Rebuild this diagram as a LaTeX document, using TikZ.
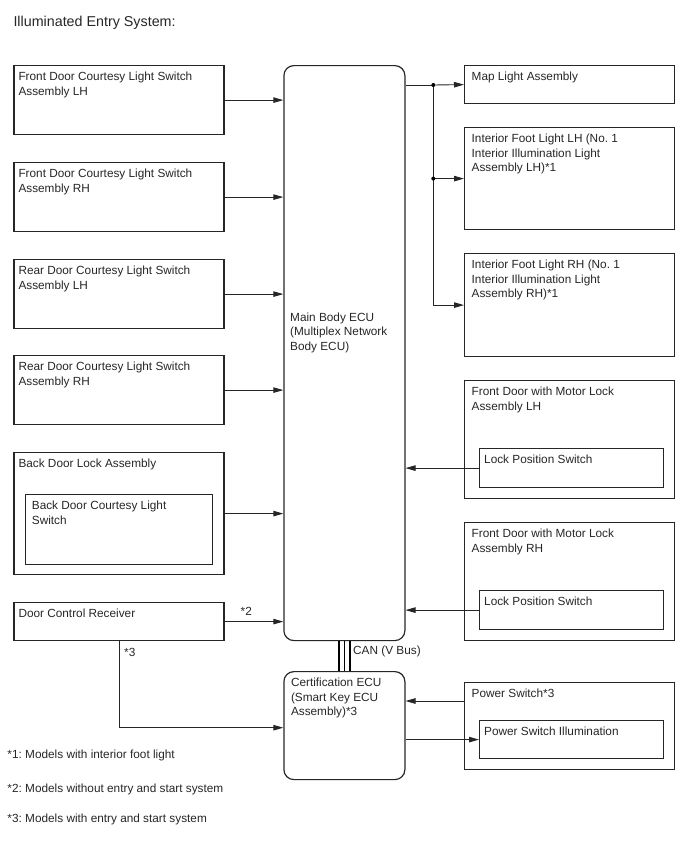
\documentclass[tikz,border=0pt]{standalone}
\usepackage{fontspec}
\setmainfont{Liberation Sans}
\usetikzlibrary{arrows.meta}
\frenchspacing

\begin{document}
\begin{tikzpicture}
[x=1pt,y=-1pt,
every node/.style={font=\fontsize{11.8}{14.5}\selectfont,text=black!85},
box/.style={draw=black!85,line width=1.2pt,anchor=north west,inner sep=0pt},
ecu/.style={box,rounded corners=10pt},
txt/.style={anchor=north west,align=left,inner xsep=5pt,inner ysep=7pt},
wideTxt/.style={txt,inner xsep=7.5pt},
note/.style={anchor=west,inner sep=0pt},
conn/.style={draw=black!85,line width=0.9pt,-{Triangle[length=10pt,width=5.5pt]}},
wire/.style={draw=black!85,line width=0.9pt},
can/.style={draw=black,line width=1.6pt},
tap/.style={circle,fill=black,minimum size=4pt,inner sep=0pt},
]
\useasboundingbox (0,0) rectangle (688,852);
\node[note,font=\fontsize{14.3}{16}\selectfont] (title) at (13.3,22.7) {Illuminated Entry System:};
% left column
\node[box,minimum width=210,minimum height=69,label={[txt]north west:{Front Door Courtesy Light Switch\\Assembly LH}}] (frontLH) at (13.3,65) {};
\node[box,minimum width=210,minimum height=69,label={[txt]north west:{Front Door Courtesy Light Switch\\Assembly RH}}] (frontRH) at (13.3,162) {};
\node[box,minimum width=210,minimum height=69,label={[txt]north west:{Rear Door Courtesy Light Switch\\Assembly LH}}] (rearLH) at (13.3,259) {};
\node[box,minimum width=210,minimum height=69,label={[txt]north west:{Rear Door Courtesy Light Switch\\Assembly RH}}] (rearRH) at (13.3,355) {};
\node[box,minimum width=210,minimum height=122,label={[txt]north west:{Back Door Lock Assembly}}] (backDoor) at (13.3,452) {};
\node[box,minimum width=187,minimum height=70,label={[txt,inner xsep=6.7pt]north west:{Back Door Courtesy Light\\Switch}}] (backSw) at (25,494) {};
\node[box,minimum width=210,minimum height=38,label={[txt]north west:{Door Control Receiver}}] (doorRx) at (13.3,602) {};
% ECUs
\node[ecu,minimum width=121,minimum height=575] (mainEcu) at (283.3,65) {};
\node[txt,anchor=west] (mainEcuText) at (285,332.5) {Main Body ECU\\(Multiplex Network\\Body ECU)};
\node[ecu,minimum width=121,minimum height=108,label={[wideTxt]north west:{Certification ECU\\(Smart Key ECU\\Assembly)*3}}] (certEcu) at (283.3,671) {};
% right column
\node[box,minimum width=210,minimum height=38,label={[wideTxt]north west:{Map Light Assembly}}] (mapLight) at (464,65) {};
\node[box,minimum width=210,minimum height=102,label={[wideTxt]north west:{Interior Foot Light LH (No. 1\\Interior Illumination Light\\Assembly LH)*1}}] (footLH) at (464,127) {};
\node[box,minimum width=210,minimum height=103,label={[wideTxt]north west:{Interior Foot Light RH (No. 1\\Interior Illumination Light\\Assembly RH)*1}}] (footRH) at (464,253) {};
\node[box,minimum width=210,minimum height=118,label={[wideTxt]north west:{Front Door with Motor Lock\\Assembly LH}}] (motorLH) at (464,380) {};
\node[box,minimum width=184,minimum height=39,label={[txt]north west:{Lock Position Switch}}] (lockLH) at (479,448) {};
\node[box,minimum width=210,minimum height=118,label={[wideTxt]north west:{Front Door with Motor Lock\\Assembly RH}}] (motorRH) at (464,522) {};
\node[box,minimum width=184,minimum height=39,label={[txt]north west:{Lock Position Switch}}] (lockRH) at (479,590) {};
\node[box,minimum width=210,minimum height=87,label={[wideTxt]north west:{Power Switch*3}}] (powerSw) at (464,682) {};
\node[box,minimum width=184,minimum height=38,label={[txt]north west:{Power Switch Illumination}}] (powerIll) at (479,720) {};
\coordinate (split) at (433.3,85);
\coordinate (rxTap) at (119,640);
\coordinate (rxIn) at (119,727.7);
\coordinate (pwrIn) at (464,701);
% inputs to main body ECU
\draw[conn] (frontLH.east) -- (frontLH.east -| mainEcu.west);
\draw[conn] (frontRH.east) -- (frontRH.east -| mainEcu.west);
\draw[conn] (rearLH.east) -- (rearLH.east -| mainEcu.west);
\draw[conn] (rearRH.east) -- (rearRH.east -| mainEcu.west);
\draw[conn] (backDoor.east) -- (backDoor.east -| mainEcu.west);
\draw[conn] (doorRx.east) -- (doorRx.east -| mainEcu.west);
\node[note] (star2) at (240.5,611.7) {*2};
\draw[conn] (lockLH.west) -- (lockLH.west -| mainEcu.east);
\draw[conn] (lockRH.west) -- (lockRH.west -| mainEcu.east);
% lights
\draw[wire] (split -| mainEcu.east) -- (split);
\draw[conn] (split) -- (mapLight.west);
\draw[conn] (split) |- (footRH.west);
\draw[conn] (split |- footLH.west) -- (footLH.west);
\node[tap] (tap1) at (split) {};
\node[tap] (tap2) at (split |- footLH.west) {};
% CAN
\foreach \dx in {-5.5,0,5.5}
  \draw[can] ([xshift=\dx]mainEcu.south) -- ([xshift=\dx]certEcu.north);
\node[note] (canLabel) at (353,651.7) {CAN (V Bus)};
% certification ECU
\draw[conn] (rxTap) |- (rxIn -| certEcu.west);
\node[note] (star3) at (124,652.7) {*3};
\draw[conn] (pwrIn) -- (pwrIn -| certEcu.east);
\draw[conn] (powerIll.west -| certEcu.east) -- (powerIll.west);
% notes
\node[note] (note1) at (7.3,755) {*1: Models with interior foot light};
\node[note] (note2) at (7.3,789.3) {*2: Models without entry and start system};
\node[note] (note3) at (7.3,819.3) {*3: Models with entry and start system};
\end{tikzpicture}
\end{document}
